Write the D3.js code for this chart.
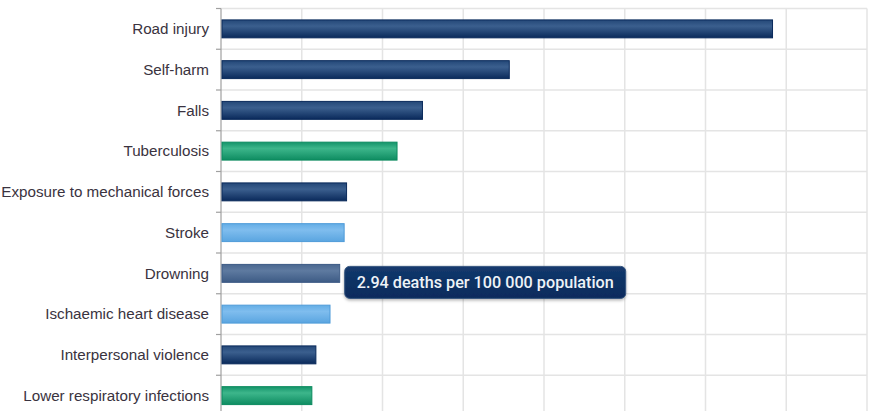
<!DOCTYPE html>
<html>
<head>
<meta charset="utf-8">
<script src="https://cdn.jsdelivr.net/npm/d3@7"></script>
<style>
  html, body { margin: 0; padding: 0; background: #fff; }
  svg { display: block; }
</style>
</head>
<body>
<div id="chart"></div>
<script>
const categories = ["Road injury", "Self-harm", "Falls", "Tuberculosis", "Exposure to mechanical forces",
  "Stroke", "Drowning", "Ischaemic heart disease", "Interpersonal violence", "Lower respiratory infections"];
const values = [13.66, 7.14, 4.99, 4.36, 3.11, 3.05, 2.94, 2.70, 2.35, 2.25];
// cause group: injury, communicable, noncommunicable
const groups = ["inj", "inj", "inj", "com", "inj", "ncd", "inj", "ncd", "inj", "com"];
const xTicks = [0, 2, 4, 6, 8, 10, 12, 14, 16];
const hovered = "Drowning";
const tooltipText = "2.94 deaths per 100 000 population";

const width = 870, height = 411;
const margin = {left: 221, top: 8.5, right: 3, bottom: -5};

const svg = d3.select("#chart").append("svg")
    .attr("width", width).attr("height", height);

const defs = svg.append("defs");
function grad(id, top, mid, bot) {
  const g = defs.append("linearGradient").attr("id", id)
      .attr("x1", 0).attr("y1", 0).attr("x2", 0).attr("y2", 1);
  g.append("stop").attr("offset", "0%").attr("stop-color", top);
  g.append("stop").attr("offset", "35%").attr("stop-color", mid);
  g.append("stop").attr("offset", "100%").attr("stop-color", bot);
}
grad("g-inj", "#244878", "#3b5f8e", "#0a2a5b");
grad("g-com", "#14946a", "#3db68b", "#0e8c61");
grad("g-ncd", "#64aee6", "#7fbdee", "#5aa5e0");
grad("g-hov", "#4a6890", "#5e7aa0", "#3d5b85");
grad("g-tip", "#143a6e", "#0f3366", "#0a2b5c");

const stroke = {inj: "#0a2a5b", com: "#0b8a5e", ncd: "#4f9bd8"};

const x = d3.scaleLinear().domain([0, 16]).range([margin.left, width - margin.right]);
const y = d3.scaleBand().domain(categories)
    .range([margin.top, height - margin.bottom]).paddingInner(0.56).paddingOuter(0.28);

const step = y.step();
const bounds = categories.map((c, i) => margin.top + i * step);
bounds.push(margin.top + categories.length * step);

// grid
svg.append("g").selectAll("line.vg").data(xTicks.slice(1)).join("line")
    .attr("x1", d => x(d)).attr("x2", d => x(d))
    .attr("y1", margin.top).attr("y2", height)
    .attr("stroke", "#e4e4e4").attr("stroke-width", 1.5);
svg.append("g").selectAll("line.hg").data(bounds).join("line")
    .attr("x1", margin.left).attr("x2", x(16))
    .attr("y1", d => d).attr("y2", d => d)
    .attr("stroke", "#e4e4e4").attr("stroke-width", 1.5);

// y axis
const yAxis = svg.append("g").attr("transform", `translate(${margin.left},0)`);
yAxis.append("line").attr("x1", 0).attr("x2", 0)
    .attr("y1", margin.top).attr("y2", height).attr("stroke", "#a0a0a0").attr("stroke-width", 1.2);
yAxis.selectAll("line.tk").data(bounds).join("line")
    .attr("x1", -5).attr("x2", 0).attr("y1", d => d).attr("y2", d => d)
    .attr("stroke", "#a0a0a0").attr("stroke-width", 1.2);
yAxis.selectAll("text").data(categories).join("text")
    .attr("x", -12).attr("y", d => y(d) + y.bandwidth() / 2)
    .attr("dy", "0.35em").attr("text-anchor", "end")
    .attr("font-family", "Liberation Sans, Arial, sans-serif").attr("font-size", 15.2)
    .attr("fill", "#3a3340")
    .text(d => d);

// bars
svg.append("g").selectAll("rect").data(categories).join("rect")
    .attr("x", x(0) + 1)
    .attr("y", d => y(d))
    .attr("width", (d, i) => x(values[i]) - x(0) - 1)
    .attr("height", y.bandwidth())
    .attr("fill", (d, i) => d === hovered ? "url(#g-hov)" : `url(#g-${groups[i]})`)
    .attr("stroke", (d, i) => d === hovered ? "#3d5b85" : stroke[groups[i]])
    .attr("stroke-width", 1);

// tooltip
const hi = categories.indexOf(hovered);
const tx = x(values[hi]) + 5, ty = y(hovered) + y.bandwidth() / 2 - 7;
const filt = defs.append("filter").attr("id", "sh").attr("x", "-10%").attr("y", "-30%")
    .attr("width", "120%").attr("height", "160%");
filt.append("feDropShadow").attr("dx", 0).attr("dy", 1.5).attr("stdDeviation", 1.5)
    .attr("flood-color", "#000").attr("flood-opacity", 0.3);
const tip = svg.append("g").attr("transform", `translate(${tx},${ty})`);
tip.append("rect").attr("width", 281).attr("height", 32).attr("rx", 5)
    .attr("fill", "url(#g-tip)").attr("stroke", "#36557f").attr("stroke-width", 1)
    .attr("filter", "url(#sh)");
tip.append("text").attr("x", 12).attr("y", 22)
    .attr("font-family", "Roboto, sans-serif").attr("font-weight", 500).attr("font-size", 16.2)
    .attr("fill", "#eef2f7").text(tooltipText);
</script>
</body>
</html>
